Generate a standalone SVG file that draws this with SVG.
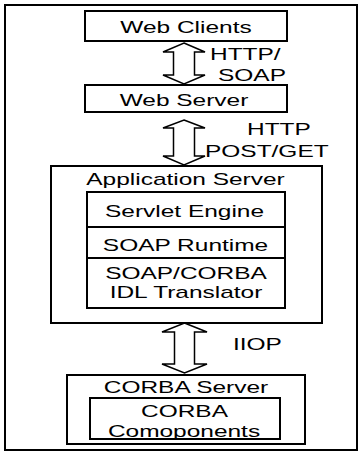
<svg xmlns="http://www.w3.org/2000/svg" width="362" height="460" viewBox="0 0 362 460">
<style>
.box{fill:#fff;stroke:#000;stroke-width:2}
.frame{fill:#fff;stroke:#000;stroke-width:2}
.arr{fill:#fff;stroke:#000;stroke-width:1.5;stroke-linejoin:miter}
text{font-family:"Liberation Sans",Arial,sans-serif;font-size:16px;fill:#000}
.c{text-anchor:middle}
</style>
<rect class="frame" x="5" y="5" width="352" height="445"/>
<g id="connectors">
<path class="arr" d="M184,43 L205,52 L194.5,52 L194.5,75 L205,75 L184,84 L163,75 L173.5,75 L173.5,52 L163,52 Z"/>
<path class="arr" d="M184,120 L205,128 L194.5,128 L194.5,156 L205,156 L184,165 L163,156 L173.5,156 L173.5,128 L163,128 Z"/>
<path class="arr" d="M184.5,323 L207,332 L194.5,332 L194.5,364 L207,364 L184.5,373 L162,364 L174.5,364 L174.5,332 L162,332 Z"/>
<text transform="translate(210,60) scale(1.53,1)">HTTP/</text>
<text transform="translate(218,81) scale(1.53,1)">SOAP</text>
<text transform="translate(247,135) scale(1.53,1)">HTTP</text>
<text transform="translate(205,157) scale(1.53,1)">POST/GET</text>
<text transform="translate(233,350) scale(1.53,1)">IIOP</text>
</g>
<g id="web-clients">
<rect class="box" x="85" y="11" width="202" height="30"/>
<text class="c" transform="translate(186,33) scale(1.53,1)">Web Clients</text>
</g>
<g id="web-server">
<rect class="box" x="85" y="85" width="202" height="27"/>
<text class="c" transform="translate(184,106) scale(1.53,1)">Web Server</text>
</g>
<g id="application-server">
<rect class="box" x="51" y="166" width="271" height="157"/>
<text class="c" transform="translate(185.5,185) scale(1.53,1)">Application Server</text>
</g>
<g id="servlet-engine">
<rect class="box" x="87" y="192" width="198" height="35"/>
<text class="c" transform="translate(184.5,217) scale(1.53,1)">Servlet Engine</text>
</g>
<g id="soap-runtime">
<rect class="box" x="87" y="227" width="198" height="31"/>
<text class="c" transform="translate(185.5,251) scale(1.53,1)">SOAP Runtime</text>
</g>
<g id="idl-translator">
<rect class="box" x="87" y="258" width="198" height="50"/>
<text class="c" transform="translate(186,279) scale(1.53,1)">SOAP/CORBA</text>
<text class="c" transform="translate(186,298) scale(1.53,1)">IDL Translator</text>
</g>
<g id="corba-server">
<rect class="box" x="67" y="375" width="238" height="69"/>
<text class="c" transform="translate(186,393) scale(1.53,1)">CORBA Server</text>
</g>
<g id="corba-components">
<rect class="box" x="90" y="398" width="190" height="41"/>
<text class="c" transform="translate(184.5,417) scale(1.53,1)">CORBA</text>
<text class="c" transform="translate(184,437) scale(1.53,1)">Comoponents</text>
</g>
</svg>
